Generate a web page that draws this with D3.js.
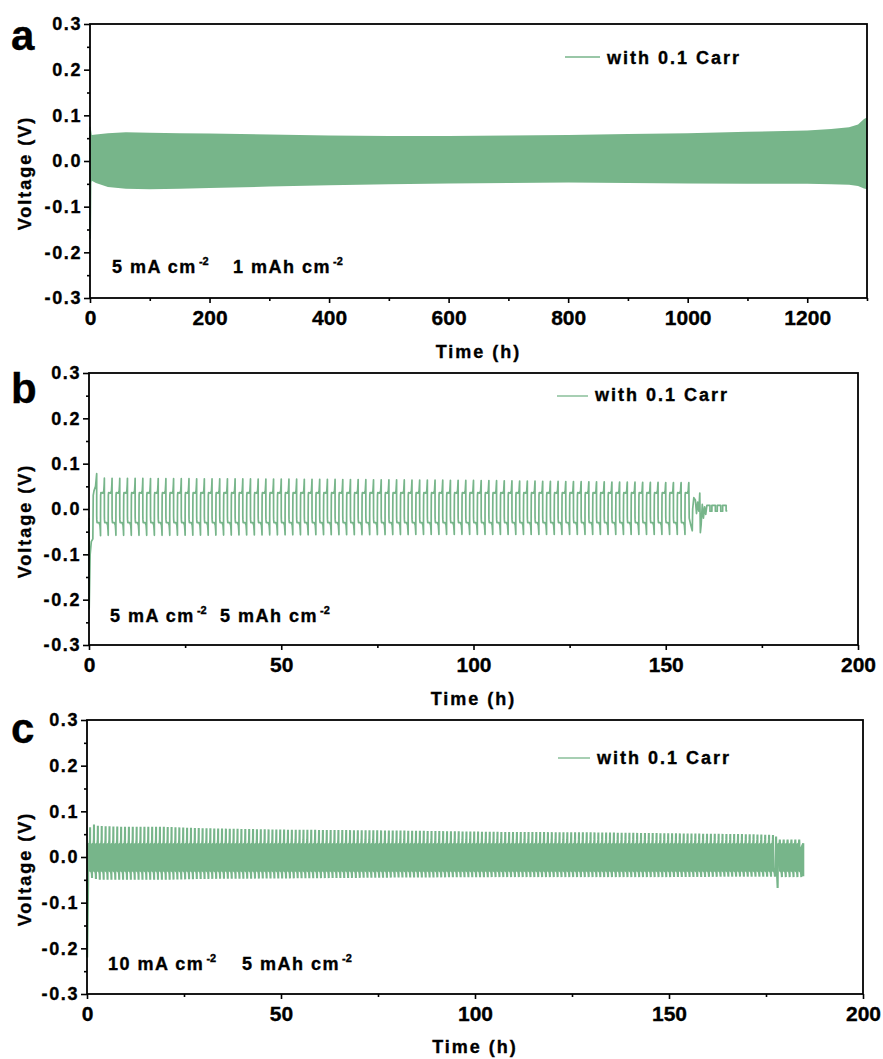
<!DOCTYPE html>
<html><head><meta charset="utf-8">
<script src="https://cdn.jsdelivr.net/npm/d3@7"></script>
<style>
body{margin:0;background:#fff;}
svg text{font-family:"Liberation Sans",Arial,sans-serif;font-weight:bold;fill:#000;stroke:#000;stroke-width:0.35px;}
</style></head><body>
<svg id="chart" width="883" height="1059"></svg>
<script>
// ================= DATA =================
const yTicks      = [-0.3, -0.2, -0.1, 0.0, 0.1, 0.2, 0.3];
const yMinorTicks = [-0.25, -0.15, -0.05, 0.05, 0.15, 0.25];
const aXTicks     = [0, 200, 400, 600, 800, 1000, 1200];
const aXMinor     = [100, 300, 500, 700, 900, 1100, 1300];
const bcXTicks    = [0, 50, 100, 150, 200];
const bcXMinor    = [25, 75, 125, 175];
const seriesName  = "with 0.1 Carr";

// panel a: dense cycling shown as envelope band
const aTime  = [1, 3, 10, 30, 60, 100, 150, 200, 300, 400, 500, 600, 700, 800, 900, 1000, 1100, 1200, 1240, 1270, 1285, 1295, 1300];
const aUpper = [0.075, 0.057, 0.058, 0.061, 0.063, 0.062, 0.061, 0.060, 0.058, 0.056, 0.055, 0.055, 0.056, 0.057, 0.059, 0.061, 0.064, 0.067, 0.070, 0.074, 0.080, 0.092, 0.095];
const aLower = [-0.050, -0.043, -0.048, -0.057, -0.061, -0.062, -0.061, -0.059, -0.056, -0.053, -0.051, -0.049, -0.048, -0.047, -0.048, -0.049, -0.050, -0.050, -0.051, -0.052, -0.055, -0.060, -0.062];
const aStartT = [0, 0.4, 1.2, 2.5];
const aStartV = [0.075, -0.17, -0.05, 0.057];

// panel b: start, one-cycle shape (2 h), peak envelope, tail
const bStartT = [0, 0.05, 0.3, 0.6, 1.0, 1.1, 1.3, 1.7, 2.0];
const bStartV = [-0.02, -0.22, -0.10, -0.072, -0.066, 0.030, 0.040, 0.050, 0.078];
const bCycleT = [0, 0.03, 0.1, 0.6, 0.85, 0.95, 1.0, 1.0, 1.03, 1.1, 1.6, 1.85, 1.95, 2.0];
const bCycleV = [-0.015, -0.024, -0.030, -0.030, -0.036, -0.048, -0.056, -0.010, 0.030, 0.036, 0.035, 0.040, 0.055, 0.066];
const bCycleK = [0, 0, 0, 0, 0, 0, -1, 0, 0, 0, 0, 0, 0, 1];
const bCycleStart = 2.0, bCycleCount = 77;
const bEnvT  = [2, 4, 20, 50, 100, 130, 156];
const bEnvUp = [0.068, 0.068, 0.067, 0.066, 0.063, 0.060, 0.058];
const bEnvLo = [-0.060, -0.058, -0.058, -0.057, -0.056, -0.056, -0.056];
const bTailT = [156.1, 156.5, 156.9, 157.0, 157.3, 157.7, 158.0, 158.3, 158.6, 158.85, 159.0, 159.2, 159.5, 159.8, 160.1, 160.4, 160.7, 161.5, 161.5, 162.0, 162.0, 162.9, 162.9, 163.4, 163.4, 164.3, 164.3, 164.8, 164.8, 165.7, 165.7, 166.0];
const bTailV = [-0.020, -0.035, -0.048, 0.000, 0.025, 0.020, -0.010, 0.015, -0.005, 0.035, -0.052, -0.035, 0.010, -0.020, 0.005, -0.012, 0.008, 0.008, -0.005, -0.005, 0.008, 0.008, -0.005, -0.005, 0.008, 0.008, -0.005, -0.005, 0.008, 0.008, -0.004, -0.004];

// panel c: start, one-cycle shape (1 h), peak envelope, dip, tail
const cStartT = [0, 0.05, 0.3];
const cStartV = [-0.05, -0.22, -0.05];
const cCycleT = [0, 0.03, 0.38, 0.46, 0.5, 0.5, 0.53, 0.88, 0.96, 1.0];
const cCycleV = [0.020, 0.028, 0.030, 0.038, 0.060, -0.022, -0.030, -0.033, -0.038, -0.045];
const cCycleK = [0, 0, 0, 0, 1, 0, 0, 0, 0, -1];
const cCycleStart = 0.3, cCycleCount = 177;
const cEnvT  = [0.3, 1, 3, 10, 20, 30, 50, 80, 106, 130, 150, 170, 178];
const cEnvUp = [0.045, 0.073, 0.068, 0.066, 0.066, 0.063, 0.060, 0.058, 0.055, 0.054, 0.052, 0.050, 0.048];
const cEnvLo = [-0.055, -0.045, -0.050, -0.050, -0.050, -0.048, -0.047, -0.045, -0.044, -0.044, -0.044, -0.043, -0.043];
const cDipT = [177.6, 177.8, 178.0, 178.1];
const cDipV = [0.045, -0.030, -0.068, 0.020];
const cTailStart = 178.1, cTailCount = 6, cTailUp = 0.031, cTailLo = -0.044;
const cEndT = [184.1, 184.6, 184.6];
const cEndV = [0.020, 0.030, -0.042];

// ================= DRAWING =================
const GREEN = "#77b58a";
const svg = d3.select("#chart");

function zip(T, V) { return T.map((t, i) => [t, V[i]]); }
function cycles(start, count, CT, CV, CK, up, lo) {
  const pts = [];
  for (let k = 0; k < count; k++) {
    const t0 = start + k * CT[CT.length - 1];
    CT.forEach((dt, i) => {
      const t = t0 + dt;
      const v = CK[i] === 1 ? up(t) : CK[i] === -1 ? lo(t) : CV[i];
      pts.push([t, v]);
    });
  }
  return pts;
}

const panels = [
  { letter: "a", x0: 90, x1: 867, y0: 24, y1: 298, xDomain: [0, 1300], xTicks: aXTicks, xMinor: aXMinor,
    letterY: 50, titleY: 358, legX: 565, legY: 57, legTextX: 607, legTextY: 64,
    ann1: ["5 mA cm", 112], ann2: ["1 mAh cm", 233], annY: 273,
    draw(g, x, y) {
      const band = aTime.map((t, i) => ({ t, u: aUpper[i], l: aLower[i] }));
      g.append("path").datum(band)
        .attr("d", d3.area().x(d => x(d.t)).y0(d => y(d.l)).y1(d => y(d.u)))
        .attr("fill", GREEN);
      g.append("path").datum(zip(aStartT, aStartV))
        .attr("d", d3.line().x(d => x(d[0])).y(d => y(d[1])))
        .attr("fill", "none").attr("stroke", GREEN).attr("stroke-width", 1.5);
    } },
  { letter: "b", x0: 89, x1: 858, y0: 373, y1: 645, xDomain: [0, 200], xTicks: bcXTicks, xMinor: bcXMinor,
    letterY: 403, titleY: 705, legX: 557, legY: 396, legTextX: 595, legTextY: 401,
    ann1: ["5 mA cm", 110], ann2: ["5 mAh cm", 220], annY: 622,
    draw(g, x, y) {
      const up = d3.scaleLinear().domain(bEnvT).range(bEnvUp).clamp(true);
      const lo = d3.scaleLinear().domain(bEnvT).range(bEnvLo).clamp(true);
      const pts = zip(bStartT, bStartV)
        .concat(cycles(bCycleStart, bCycleCount, bCycleT, bCycleV, bCycleK, up, lo))
        .concat(zip(bTailT, bTailV));
      g.append("path").datum(pts)
        .attr("d", d3.line().x(d => x(d[0])).y(d => y(d[1])))
        .attr("fill", "none").attr("stroke", GREEN).attr("stroke-width", 1.7).attr("stroke-linejoin", "round");
    } },
  { letter: "c", x0: 87, x1: 863, y0: 720, y1: 994, xDomain: [0, 200], xTicks: bcXTicks, xMinor: bcXMinor,
    letterY: 743, titleY: 1053, legX: 558, legY: 758, legTextX: 597, legTextY: 764,
    ann1: ["10 mA cm", 108], ann2: ["5 mAh cm", 242], annY: 970,
    draw(g, x, y) {
      const up = d3.scaleLinear().domain(cEnvT).range(cEnvUp).clamp(true);
      const lo = d3.scaleLinear().domain(cEnvT).range(cEnvLo).clamp(true);
      const pts = zip(cStartT, cStartV)
        .concat(cycles(cCycleStart, cCycleCount, cCycleT, cCycleV, cCycleK, up, lo))
        .concat(zip(cDipT, cDipV))
        .concat(cycles(cTailStart, cTailCount, cCycleT, cCycleV, cCycleK, () => cTailUp, () => cTailLo))
        .concat(zip(cEndT, cEndV));
      g.append("path").datum(pts)
        .attr("d", d3.line().x(d => x(d[0])).y(d => y(d[1])))
        .attr("fill", "none").attr("stroke", GREEN).attr("stroke-width", 2.1);
    } }
];

panels.forEach(p => {
  const g = svg.append("g");
  const x = d3.scaleLinear().domain(p.xDomain).range([p.x0, p.x1]);
  const y = d3.scaleLinear().domain([-0.3, 0.3]).range([p.y1, p.y0]);

  p.draw(g, x, y);

  // frame
  g.append("rect").attr("x", p.x0).attr("y", p.y0)
    .attr("width", p.x1 - p.x0).attr("height", p.y1 - p.y0)
    .attr("fill", "none").attr("stroke", "#000").attr("stroke-width", 1.8);

  // x axis
  const xa = g.append("g").attr("transform", `translate(0,${p.y1})`)
    .call(d3.axisBottom(x).tickValues(p.xTicks).tickSize(5).tickPadding(7).tickFormat(d3.format("d")));
  const xm = g.append("g").attr("transform", `translate(0,${p.y1})`)
    .call(d3.axisBottom(x).tickValues(p.xMinor).tickSize(3).tickFormat(""));
  // y axis
  const ya = g.append("g").attr("transform", `translate(${p.x0},0)`)
    .call(d3.axisLeft(y).tickValues(yTicks).tickSize(6).tickPadding(2).tickFormat(d => d.toFixed(1)));
  const ym = g.append("g").attr("transform", `translate(${p.x0},0)`)
    .call(d3.axisLeft(y).tickValues(yMinorTicks).tickSize(3).tickFormat(""));
  [xa, xm, ya, ym].forEach(a => {
    a.select(".domain").remove();
    a.selectAll("line").attr("stroke", "#000").attr("stroke-width", 1.6);
  });
  xa.selectAll("text").style("font-size", "21px");
  ya.selectAll("text").style("font-size", "18px").style("letter-spacing", "1.6px");

  // axis titles
  g.append("text").attr("x", (p.x0 + p.x1) / 2).attr("y", p.titleY)
    .attr("text-anchor", "middle").style("font-size", "18px").style("letter-spacing", "2px")
    .text("Time (h)");
  g.append("text").attr("transform", `translate(31,${(p.y0 + p.y1) / 2 + 12}) rotate(-90)`)
    .attr("text-anchor", "middle").style("font-size", "18px").style("letter-spacing", "2px")
    .text("Voltage (V)");

  // panel letter
  g.append("text").attr("x", 11).attr("y", p.letterY).style("font-size", "42px").text(p.letter);

  // legend
  g.append("line").attr("x1", p.legX).attr("x2", p.legTextX - 7)
    .attr("y1", p.legY).attr("y2", p.legY).attr("stroke", GREEN).attr("stroke-width", 1.3);
  g.append("text").attr("x", p.legTextX).attr("y", p.legTextY)
    .style("font-size", "18px").style("letter-spacing", "2px").text(seriesName);

  // annotation
  [p.ann1, p.ann2].forEach(([txt, ax]) => {
    const t = g.append("text").attr("x", ax).attr("y", p.annY)
      .style("font-size", "18px").style("letter-spacing", "1.5px");
    t.append("tspan").text(txt);
    t.append("tspan").attr("dx", 2).attr("dy", -8).style("font-size", "11px").style("letter-spacing", "0px").text("-2");
  });
});
</script>
</body></html>
